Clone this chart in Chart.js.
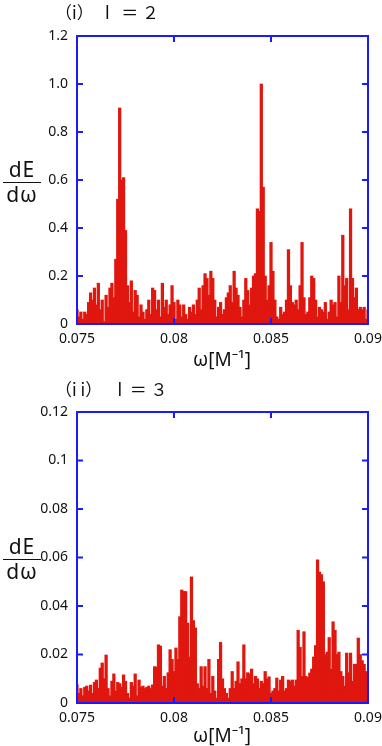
<!DOCTYPE html>
<html>
<head>
<meta charset="utf-8">
<script src="https://cdn.jsdelivr.net/npm/chart.js@4.4.1/dist/chart.umd.min.js"></script>
<style>
  body { margin: 0; background: #fff; width: 382px; height: 746px; position: relative; overflow: hidden; font-family: "Noto Sans", sans-serif; }
  .box { position: absolute; left: 0; width: 382px; height: 373px; }
  .title { position: absolute; left: 55px; font-family: "Noto Sans CJK JP", "Noto Sans", sans-serif; font-size: 17px; white-space: pre; color: #111; }
  .title .ell { font-family: "Noto Sans", sans-serif; font-size: 18px; }
  .xlab { position: absolute; left: 0; width: 444px; text-align: center; font-size: 19px; color: #111; }
  .frac { position: absolute; left: 3px; width: 38px; text-align: center; font-size: 21px; line-height: 21px; color: #111; letter-spacing: 1px; }
  .frac .top { border-bottom: 1.6px solid #111; padding-bottom: 2px; margin-bottom: 1px; }
</style>
</head>
<body>
<div class="box" style="top:0"><canvas id="chartL2"></canvas></div>
<div class="box" style="top:373px"><canvas id="chartL3"></canvas></div>

<div class="title" style="top:-1px">（i）   <span class="ell">l</span>   ＝ ２</div>
<div class="title" style="top:376px">（i i）    <span class="ell">l</span>  ＝ ３</div>
<div class="xlab" style="top:346px">ω[M⁻¹]</div>
<div class="xlab" style="top:722px">ω[M⁻¹]</div>
<div class="frac" style="top:159px"><div class="top">dE</div><div>dω</div></div>
<div class="frac" style="top:536px"><div class="top">dE</div><div>dω</div></div>

<script>
// frequency grid (omega, M^-1)
const omega = [
  0.0750, 0.0751, 0.0752, 0.0753, 0.0754, 0.0755, 0.0756, 0.0757, 0.0758, 0.0759,
  0.0760, 0.0761, 0.0762, 0.0763, 0.0764, 0.0765, 0.0766, 0.0767, 0.0768, 0.0769,
  0.0770, 0.0771, 0.0772, 0.0773, 0.0774, 0.0775, 0.0776, 0.0777, 0.0778, 0.0779,
  0.0780, 0.0781, 0.0782, 0.0783, 0.0784, 0.0785, 0.0786, 0.0787, 0.0788, 0.0789,
  0.0790, 0.0791, 0.0792, 0.0793, 0.0794, 0.0795, 0.0796, 0.0797, 0.0798, 0.0799,
  0.0800, 0.0801, 0.0802, 0.0803, 0.0804, 0.0805, 0.0806, 0.0807, 0.0808, 0.0809,
  0.0810, 0.0811, 0.0812, 0.0813, 0.0814, 0.0815, 0.0816, 0.0817, 0.0818, 0.0819,
  0.0820, 0.0821, 0.0822, 0.0823, 0.0824, 0.0825, 0.0826, 0.0827, 0.0828, 0.0829,
  0.0830, 0.0831, 0.0832, 0.0833, 0.0834, 0.0835, 0.0836, 0.0837, 0.0838, 0.0839,
  0.0840, 0.0841, 0.0842, 0.0843, 0.0844, 0.0845, 0.0846, 0.0847, 0.0848, 0.0849,
  0.0850, 0.0851, 0.0852, 0.0853, 0.0854, 0.0855, 0.0856, 0.0857, 0.0858, 0.0859,
  0.0860, 0.0861, 0.0862, 0.0863, 0.0864, 0.0865, 0.0866, 0.0867, 0.0868, 0.0869,
  0.0870, 0.0871, 0.0872, 0.0873, 0.0874, 0.0875, 0.0876, 0.0877, 0.0878, 0.0879,
  0.0880, 0.0881, 0.0882, 0.0883, 0.0884, 0.0885, 0.0886, 0.0887, 0.0888, 0.0889,
  0.0890, 0.0891, 0.0892, 0.0893, 0.0894, 0.0895, 0.0896, 0.0897, 0.0898, 0.0899,
  0.0900
];

// (i) l = 2 spectrum dE/dω
const spectrumL2 = [
  0.06, 0.03, 0.05, 0.02, 0.05, 0.04, 0.09, 0.13, 0.10, 0.15,
  0.08, 0.17, 0.06, 0.10, 0.01, 0.12, 0.07, 0.15, 0.17, 0.11,
  0.27, 0.52, 0.90, 0.60, 0.61, 0.39, 0.16, 0.09, 0.18, 0.05,
  0.14, 0.12, 0.03, 0.08, 0.05, 0.02, 0.06, 0.10, 0.04, 0.15,
  0.14, 0.06, 0.10, 0.03, 0.17, 0.07, 0.10, 0.04, 0.08, 0.16,
  0.09, 0.02, 0.10, 0.08, 0.03, 0.08, 0.04, 0.02, 0.07, 0.05,
  0.08, 0.04, 0.10, 0.15, 0.06, 0.16, 0.21, 0.19, 0.12, 0.22,
  0.19, 0.10, 0.03, 0.07, 0.09, 0.04, 0.06, 0.11, 0.13, 0.16,
  0.09, 0.22, 0.15, 0.12, 0.07, 0.03, 0.10, 0.19, 0.14, 0.08,
  0.15, 0.20, 0.21, 0.48, 0.47, 1.00, 0.57, 0.20, 0.10, 0.16,
  0.34, 0.22, 0.10, 0.03, 0.02, 0.07, 0.04, 0.05, 0.10, 0.31,
  0.16, 0.09, 0.08, 0.10, 0.06, 0.16, 0.34, 0.11, 0.04, 0.05,
  0.11, 0.20, 0.19, 0.10, 0.03, 0.07, 0.06, 0.05, 0.09, 0.02,
  0.05, 0.10, 0.08, 0.09, 0.03, 0.20, 0.09, 0.37, 0.16, 0.19,
  0.06, 0.48, 0.19, 0.11, 0.15, 0.06, 0.07, 0.06, 0.07, 0.02,
  0.06
];

// (ii) l = 3 spectrum dE/dω
const spectrumL3 = [
  0.0075, 0.0040, 0.0060, 0.0030, 0.0065, 0.0070, 0.0050, 0.0074, 0.0040, 0.0085,
  0.0095, 0.0060, 0.0144, 0.0165, 0.0100, 0.0198, 0.0060, 0.0030, 0.0090, 0.0120,
  0.0050, 0.0085, 0.0080, 0.0065, 0.0116, 0.0090, 0.0040, 0.0020, 0.0085, 0.0070,
  0.0120, 0.0030, 0.0095, 0.0065, 0.0070, 0.0060, 0.0065, 0.0070, 0.0060, 0.0075,
  0.0150, 0.0148, 0.0240, 0.0235, 0.0070, 0.0110, 0.0060, 0.0125, 0.0220, 0.0180,
  0.0130, 0.0227, 0.0180, 0.0356, 0.0466, 0.0460, 0.0460, 0.0330, 0.0190, 0.0520,
  0.0340, 0.0310, 0.0080, 0.0060, 0.0150, 0.0070, 0.0150, 0.0060, 0.0180, 0.0040,
  0.0110, 0.0050, 0.0020, 0.0180, 0.0250, 0.0100, 0.0060, 0.0040, 0.0020, 0.0060,
  0.0130, 0.0060, 0.0090, 0.0170, 0.0080, 0.0100, 0.0240, 0.0100, 0.0125, 0.0120,
  0.0140, 0.0080, 0.0110, 0.0100, 0.0060, 0.0090, 0.0080, 0.0130, 0.0100, 0.0108,
  0.0040, 0.0050, 0.0060, 0.0103, 0.0050, 0.0095, 0.0110, 0.0050, 0.0060, 0.0095,
  0.0090, 0.0095, 0.0070, 0.0095, 0.0300, 0.0230, 0.0110, 0.0294, 0.0110, 0.0105,
  0.0124, 0.0140, 0.0190, 0.0237, 0.0590, 0.0540, 0.0530, 0.0500, 0.0200, 0.0210,
  0.0270, 0.0140, 0.0335, 0.0300, 0.0200, 0.0210, 0.0130, 0.0110, 0.0070, 0.0206,
  0.0125, 0.0206, 0.0090, 0.0160, 0.0160, 0.0268, 0.0200, 0.0175, 0.0160, 0.0130,
  0.0110
];

const xTicks = [0.075, 0.08, 0.085, 0.09];

const axisBlue = '#1a1aff';
const barRed = '#e0170f';

// box border + inward tick marks like the original plot
const boxTicks = {
  id: 'boxTicks',
  afterDatasetsDraw(chart) {
    const { ctx, chartArea: a, scales: { x, y } } = chart;
    const len = 6;
    ctx.save();
    ctx.strokeStyle = axisBlue;
    ctx.lineWidth = 2;
    ctx.beginPath();
    x.ticks.forEach(t => {
      const px = x.getPixelForValue(t.value);
      ctx.moveTo(px, a.bottom); ctx.lineTo(px, a.bottom - len);
      ctx.moveTo(px, a.top); ctx.lineTo(px, a.top + len);
    });
    y.ticks.forEach(t => {
      const py = y.getPixelForValue(t.value);
      ctx.moveTo(a.left, py); ctx.lineTo(a.left + len, py);
      ctx.moveTo(a.right, py); ctx.lineTo(a.right - len, py);
    });
    ctx.stroke();
    ctx.strokeRect(a.left, a.top, a.right - a.left, a.bottom - a.top);
    ctx.restore();
  }
};

function makeChart(id, values, yMax, yStep, yFmt, padTop, xHeight) {
  const ctx = document.getElementById(id).getContext('2d');
  return new Chart(ctx, {
    type: 'bar',
    data: {
      datasets: [{
        data: values.map((v, i) => ({ x: omega[i], y: v })),
        backgroundColor: barRed,
        borderWidth: 0,
        barThickness: 2.6
      }]
    },
    options: {
      responsive: true,
      maintainAspectRatio: false,
      animation: false,
      layout: { padding: { top: padTop, right: 14, left: 0, bottom: 0 } },
      plugins: { legend: { display: false }, tooltip: { enabled: false } },
      scales: {
        x: {
          type: 'linear',
          min: 0.075,
          max: 0.09,
          offset: false,
          grid: { display: false, drawTicks: false, offset: false },
          border: { display: false },
          afterBuildTicks: s => { s.ticks = xTicks.map(v => ({ value: v })); },
          afterFit: s => { s.height = xHeight; s.paddingLeft = 0; s.paddingRight = 0; },
          ticks: {
            padding: 7,
            maxRotation: 0,
            color: '#111',
            font: { family: 'Noto Sans', size: 14 },
            callback: v => String(parseFloat(v.toFixed(3)))
          }
        },
        y: {
          min: 0,
          max: yMax,
          grid: { display: false, drawTicks: false },
          border: { display: false },
          afterFit: s => { s.width = 77; },
          ticks: {
            stepSize: yStep,
            padding: 9,
            color: '#111',
            font: { family: 'Noto Sans', size: 14 },
            callback: yFmt
          }
        }
      }
    },
    plugins: [boxTicks]
  });
}

makeChart('chartL2', spectrumL2, 1.2, 0.2,
  v => (Math.abs(v) < 1e-9 ? '0' : v.toFixed(1)), 36, 49);
makeChart('chartL3', spectrumL3, 0.12, 0.02,
  v => (Math.abs(v) < 1e-9 ? '0' : String(parseFloat(v.toFixed(2)))), 39, 43);
</script>
</body>
</html>
